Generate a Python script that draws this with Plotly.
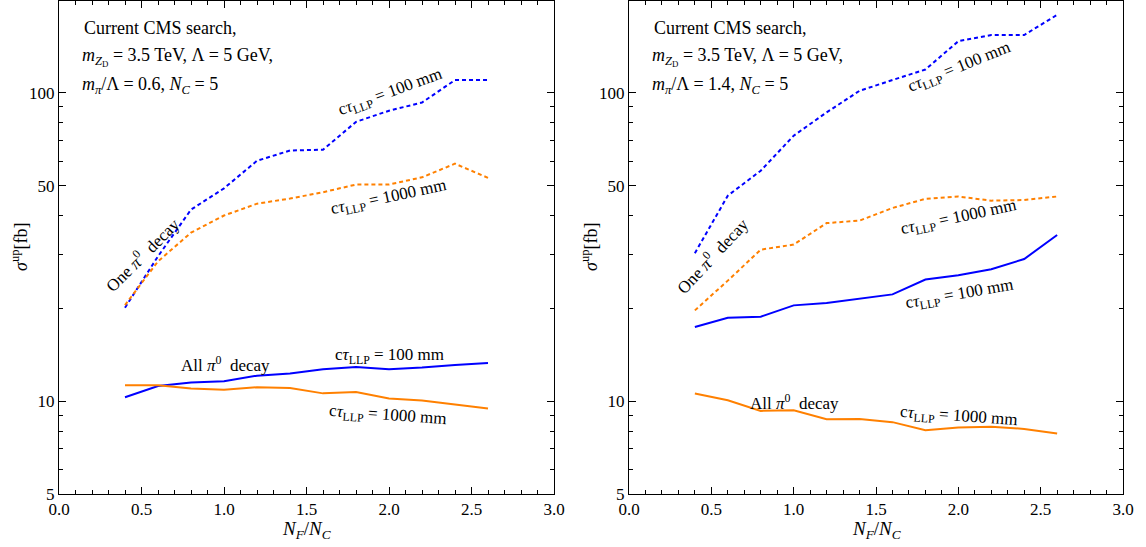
import plotly.graph_objects as go
import math

# ---------------- data ----------------
nf_over_nc = [0.4, 0.6, 0.8, 1.0, 1.2, 1.4, 1.6, 1.8, 2.0, 2.2, 2.4, 2.6]

left_one_100 = [20.1, 29.5, 41.8, 49.0, 60.2, 65.0, 65.4, 80.5, 87.5, 93.0, 110.0, 110.0]
left_one_1000 = [20.5, 28.4, 35.2, 40.0, 43.7, 45.4, 47.6, 50.4, 50.4, 53.2, 58.9, 53.0]
left_all_100 = [10.3, 11.2, 11.5, 11.6, 12.1, 12.3, 12.7, 12.9, 12.7, 12.85, 13.1, 13.3]
left_all_1000 = [11.26, 11.26, 11.0, 10.9, 11.1, 11.04, 10.6, 10.7, 10.2, 10.05, 9.75, 9.47]

right_one_100 = [30.2, 46.4, 55.9, 72.6, 86.4, 101.5, 110.0, 119.0, 147.0, 154.0, 154.0, 179.0]
right_one_1000 = [19.7, 24.6, 31.0, 32.2, 37.8, 38.5, 42.3, 45.3, 46.1, 44.7, 44.9, 46.1]
right_all_100 = [17.4, 18.65, 18.8, 20.45, 20.8, 21.5, 22.2, 24.8, 25.6, 26.8, 28.9, 34.6]
right_all_1000 = [10.59, 10.07, 9.30, 9.35, 8.74, 8.76, 8.55, 8.05, 8.22, 8.26, 8.13, 7.86]

x_ticks = [0.0, 0.5, 1.0, 1.5, 2.0, 2.5, 3.0]
x_ticklabels = ["0.0", "0.5", "1.0", "1.5", "2.0", "2.5", "3.0"]
y_ticks = [5, 10, 50, 100]
y_ticklabels = ["5", "10", "50", "100"]
y_minor = [6, 7, 8, 9, 20, 30, 40, 60, 70, 80, 90]

BLUE = "#0000ff"
ORANGE = "#ff8000"
FONT = "'Liberation Serif', 'Times New Roman', 'DejaVu Serif', serif"
W, H = 1146, 547
TOP = 1


def px(x, y):
    return x / W, (H - y) / (H - TOP)


fig = go.Figure()

dash = "4px,3px"
series = [
    ("x", "y", left_one_100, BLUE, dash),
    ("x", "y", left_one_1000, ORANGE, dash),
    ("x", "y", left_all_100, BLUE, "solid"),
    ("x", "y", left_all_1000, ORANGE, "solid"),
    ("x2", "y2", right_one_100, BLUE, dash),
    ("x2", "y2", right_one_1000, ORANGE, dash),
    ("x2", "y2", right_all_100, BLUE, "solid"),
    ("x2", "y2", right_all_1000, ORANGE, "solid"),
]
for xa, ya, vals, col, dsh in series:
    fig.add_trace(go.Scatter(x=nf_over_nc, y=vals, xaxis=xa, yaxis=ya, mode="lines",
                             line=dict(color=col, width=2, dash=dsh), showlegend=False,
                             hoverinfo="skip"))

common_x = dict(range=[0, 3], tickmode="array", tickvals=x_ticks, ticktext=x_ticklabels,
                ticks="inside", ticklen=7, tickwidth=1, tickcolor="black",
                minor=dict(dtick=0.1, tick0=0, ticks="inside", ticklen=4, tickwidth=1, tickcolor="black"),
                showline=True, linecolor="black", linewidth=1, mirror="ticks",
                showgrid=False, zeroline=False,
                tickfont=dict(family=FONT, size=17, color="black"))
common_y = dict(type="log", range=[math.log10(5), math.log10(198.5)], tickmode="array",
                tickvals=y_ticks, ticktext=y_ticklabels,
                ticks="inside", ticklen=7, tickwidth=1, tickcolor="black",
                minor=dict(tickmode="array", tickvals=y_minor, ticks="inside", ticklen=4,
                           tickwidth=1, tickcolor="black"),
                showline=True, linecolor="black", linewidth=1, mirror="ticks",
                showgrid=False, zeroline=False,
                tickfont=dict(family=FONT, size=17, color="black"))

ydom = [(H - 494) / (H - TOP), 1]
fig.update_layout(
    width=W, height=H,
    font=dict(family=FONT, color="black"),
    margin=dict(l=0, r=0, t=TOP, b=0, autoexpand=False),
    paper_bgcolor="white", plot_bgcolor="white",
    xaxis=dict(domain=[59 / W, 554 / W], anchor="y", **common_x),
    yaxis=dict(domain=ydom, anchor="x", **common_y),
    xaxis2=dict(domain=[629 / W, 1123 / W], anchor="y2", **common_x),
    yaxis2=dict(domain=ydom, anchor="x2", **common_y),
)

anns = []


def add_text(x, y, text, angle=0, size=17, xanchor="center"):
    xp, yp = px(x, y)
    anns.append(dict(x=xp, y=yp, xref="paper", yref="paper", text=text, showarrow=False,
                     textangle=angle, xanchor=xanchor, yanchor="middle",
                     font=dict(family=FONT, size=size, color="black")))


ct100 = "c<i>τ</i><sub>LLP</sub> = 100 mm"
ct1000 = "c<i>τ</i><sub>LLP</sub> = 1000 mm"
mzd = "<i>m</i><sub><i>Z</i><sub>D</sub></sub> = 3.5 TeV, Λ = 5 GeV,"

for off, ratio in [(0, "0.6"), (570, "1.4")]:
    add_text(82 + off, 28, "Current CMS search,", size=18, xanchor="left")
    add_text(80 + off, 57, mzd, size=18, xanchor="left")
    add_text(80 + off, 85, "<i>m</i><sub><i>π</i></sub>/Λ = " + ratio + ", <i>N</i><sub><i>C</i></sub> = 5",
             size=18, xanchor="left")
    add_text(20 + off, 247, "<i>σ</i><sup>up</sup>[fb]", angle=-90, size=18)
    add_text(306 + off, 530, "<i>N</i><sub><i>F</i></sub>/<i>N</i><sub><i>C</i></sub>", size=19)

# left panel labels
add_text(390, 93, ct100, angle=-20)
add_text(389, 198, ct1000, angle=-12)
add_text(142, 254, "One <i>π</i><sup>0</sup>  decay", angle=-45)
add_text(225, 364, "All <i>π</i><sup>0</sup>  decay")
add_text(389, 356, ct100)
add_text(388, 416, ct1000, angle=4)

# right panel labels
add_text(959, 68, ct100, angle=-22)
add_text(959, 218, ct1000, angle=-12)
add_text(712, 255, "One <i>π</i><sup>0</sup>  decay", angle=-47)
add_text(959, 295, ct100, angle=-10)
add_text(794, 402, "All <i>π</i><sup>0</sup>  decay")
add_text(959, 417, ct1000, angle=4)

fig.update_layout(annotations=anns)
fig.write_html("out.html")
